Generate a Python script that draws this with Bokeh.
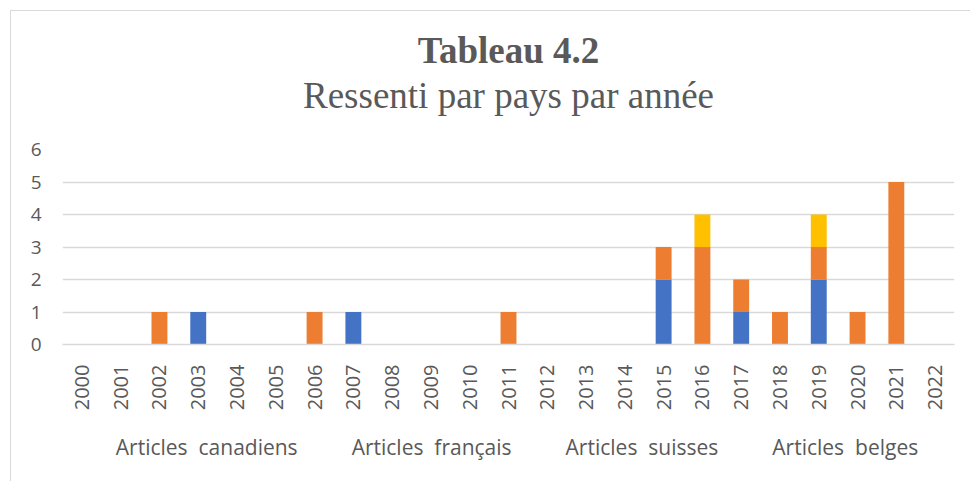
import math
from bokeh.plotting import figure
from bokeh.layouts import column
from bokeh.models import Title, Legend, LegendItem, Range1d, FixedTicker
from bokeh.embed import file_html
from bokeh.resources import INLINE

years = [str(y) for y in range(2000, 2023)]
canadiens = [0,0,0,1,0,0,0,1,0,0,0,0,0,0,0,2,0,1,0,2,0,0,0]
francais  = [0,0,1,0,0,0,1,0,0,0,0,1,0,0,0,1,3,1,1,1,1,5,0]
suisses   = [0]*23
belges    = [0,0,0,0,0,0,0,0,0,0,0,0,0,0,0,0,1,0,0,1,0,0,0]
series = ["canadiens", "francais", "suisses", "belges"]
labels = ["Articles  canadiens", "Articles  français", "Articles  suisses", "Articles  belges"]
colors = ["#4472C4", "#ED7D31", "#A5A5A5", "#FFC000"]

data = dict(years=years, canadiens=canadiens, francais=francais, suisses=suisses, belges=belges)

p = figure(x_range=years, y_range=Range1d(0, 6), frame_width=891, frame_height=194,
           output_backend="svg", toolbar_location=None,
           min_border_left=51, min_border_right=17, min_border_bottom=160, min_border_top=138)
p.margin = (10, 0, 0, 10)
p.styles = {"border-left": "1px solid #d9d9d9", "border-top": "1px solid #d9d9d9"}

r = p.vbar_stack(series, x="years", width=0.41, color=colors, source=data, line_width=0)

# spacer between subtitle and plot frame
p.add_layout(Title(text=" ", text_font_size="1px", standoff=29), "above")
p.add_layout(Title(text="Ressenti par pays par année", align="center", text_font="Liberation Serif",
                   text_font_size="37px", text_font_style="normal", text_color="#595959",
                   standoff=4), "above")
p.add_layout(Title(text="Tableau 4.2", align="center", text_font="Liberation Serif",
                   text_font_size="37px", text_font_style="bold", text_color="#595959",
                   standoff=0), "above")

p.xgrid.grid_line_color = None
p.ygrid.grid_line_color = "#d9d9d9"
p.ygrid.grid_line_width = 1.5
p.yaxis.ticker = FixedTicker(ticks=[0,1,2,3,4,5,6])
p.yaxis.axis_line_color = None
p.yaxis.major_tick_line_color = None
p.yaxis.minor_tick_line_color = None
p.yaxis.major_label_text_font = "Open Sans"
p.yaxis.major_label_text_font_size = "19px"
p.yaxis.major_label_text_color = "#595959"
p.yaxis.major_label_standoff = 15

p.xaxis.axis_line_color = "#d9d9d9"
p.xaxis.axis_line_width = 1.5
p.xaxis.major_tick_line_color = None
p.xaxis.minor_tick_line_color = None
p.xaxis.major_label_orientation = math.pi / 2
p.xaxis.major_label_text_font = "Open Sans"
p.xaxis.major_label_text_font_size = "20px"
p.xaxis.major_label_text_color = "#595959"
p.xaxis.major_label_standoff = 14
p.x_range.range_padding = 0
p.outline_line_color = None

# legend drawn in its own small figure, pulled up under the axis labels
leg = figure(frame_width=891, frame_height=40, min_border=0,
             x_axis_location=None, y_axis_location=None,
             output_backend="svg", toolbar_location=None)
leg.margin = (-76, 0, 0, 62)
leg.grid.visible = False
leg.outline_line_color = None
leg.border_fill_alpha = 0
leg.background_fill_alpha = 0
dummies = [leg.vbar(x=[], top=[], width=0.5, color=c, line_width=0) for c in colors]

items = [LegendItem(label=labels[i], renderers=[dummies[i]]) for i in range(4)]
legend = Legend(items=items, orientation="horizontal", location="center",
                label_text_font="Open Sans", label_text_font_size="21px", label_text_color="#595959",
                glyph_width=13, glyph_height=13, label_standoff=6, spacing=35,
                border_line_color=None, background_fill_alpha=0, margin=0, padding=0)
leg.add_layout(legend, "center")

layout = column(p, leg, spacing=0)
open("out.html", "w").write(file_html(layout, INLINE))
